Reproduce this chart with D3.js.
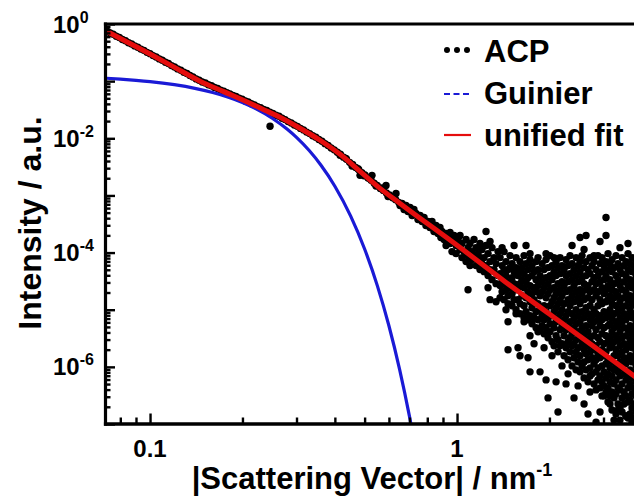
<!DOCTYPE html>
<html><head><meta charset="utf-8">
<script src="https://cdn.jsdelivr.net/npm/d3@7"></script>
<style>html,body{margin:0;padding:0;background:#fff;overflow:hidden}svg{display:block}text{font-family:"Liberation Sans",Arial,sans-serif;font-weight:bold;fill:#000}</style>
</head><body><svg id="c" width="634" height="504"></svg>
<script>
// ---------- data ----------
const fitQ = [0.0719,0.08511,0.1,0.1202,0.1455,0.1738,0.2117,0.2399,0.2651,0.308,0.3578,0.4158,0.4831,0.5613,0.6521,1.0228,1.4335,1.9937,3.772,4.5];
const fitI = [0.754,0.469,0.2977,0.1742,0.1,0.0656,0.0411,0.0300,0.02335,0.01498,0.00923,0.00524,0.00264,0.00133,7.24e-4,1.224e-4,3.10e-5,8.51e-6,6.95e-7,3.46e-7];
const guinierQ = [0.072,0.08,0.09,0.1,0.12,0.14,0.16,0.18,0.2,0.22,0.25,0.28,0.3,0.33,0.36,0.4,0.45,0.5,0.55,0.6,0.65,0.7,0.71];
const guinierI = [0.1124,0.1086,0.1035,0.0982,0.0867,0.0749,0.0633,0.0523,0.0423,0.0334,0.02245,0.01437,0.01036,0.0061,0.003406,0.00145,4.39e-4,1.156e-4,2.64e-5,5.24e-6,9.06e-7,1.36e-7,9.15e-8];
// ACP measured points, low q (tight band on the fit)
const bandQ = [0.07244,0.07413,0.07586,0.07762,0.07943,0.08128,0.08318,0.08511,0.08710,0.08913,0.09120,0.09333,0.09550,0.09772,0.1,0.1023,0.1047,0.1072,0.1096,0.1122,0.1148,0.1175,0.1202,0.1230,0.1259,0.1288,0.1318,0.1349,0.1380,0.1413,0.1445,0.1479,0.1514,0.1549,0.1585,0.1622,0.1660,0.1698,0.1738,0.1778,0.1820,0.1862,0.1905,0.1950,0.1995,0.2042,0.2089,0.2138,0.2188,0.2239,0.2291,0.2344,0.2399,0.2455,0.2512,0.2570,0.2630,0.2692,0.2754,0.2818,0.2884,0.2951,0.3020,0.3090,0.3162,0.3236,0.3311,0.3388,0.3467,0.3548,0.3631,0.3715,0.3802,0.3890,0.3981,0.4074,0.4169,0.4266,0.4365,0.4467,0.4571,0.4677,0.4786,0.4898,0.5012,0.5129,0.5248,0.5370,0.5495,0.5623,0.5754,0.5888,0.6026,0.6166,0.6310,0.6457];
const bandI = [0.751,0.695,0.660,0.611,0.580,0.536,0.509,0.471,0.447,0.414,0.393,0.364,0.346,0.319,0.303,0.280,0.265,0.245,0.232,0.214,0.203,0.187,0.177,0.1637,0.1552,0.1432,0.1357,0.1252,0.1187,0.1095,0.1038,0.0967,0.0927,0.0867,0.0832,0.0777,0.0745,0.0696,0.0668,0.0625,0.0599,0.0560,0.0537,0.0502,0.0482,0.0450,0.0432,0.0403,0.0385,0.0358,0.0344,0.0319,0.0306,0.0285,0.0272,0.02536,0.02425,0.02244,0.02124,0.01958,0.01853,0.01709,0.01618,0.01490,0.01401,0.01284,0.01207,0.01106,0.01041,0.00952,0.00890,0.00805,0.00747,0.00677,0.00628,0.00569,0.00528,0.00468,0.00428,0.00379,0.00347,0.00308,0.00281,0.00249,0.002275,0.002018,0.001841,0.001636,0.001493,0.001326,0.001225,0.001100,0.001015,9.13e-4,8.43e-4,7.57e-4];
const acpExtra = [[0.246,0.01625],[0.4158,0.005031],[0.4349,0.004441],[0.4550,0.003266],[0.4759,0.002940],[0.4978,0.002207],[0.5207,0.001987],[0.5446,0.001462],[0.5697,0.001354],[0.5959,0.0009605],[0.6234,0.0009412],[0.6521,0.0006677],[0.5285,0.002244],[0.5871,0.001498],[0.6328,0.001084],[0.4831,0.002244]];
// ACP, intermediate q
const acpMid = [[0.662,7.24e-4],[0.672,5.68e-4],[0.682,6.68e-4],[0.692,5.24e-4],[0.703,6.16e-4],[0.714,4.46e-4],[0.724,5.68e-4],[0.735,4.84e-4],[0.746,3.79e-4],[0.758,4.46e-4],[0.769,3.50e-4],[0.781,4.11e-4],[0.792,2.98e-4],[0.804,3.50e-4],[0.816,2.75e-4],[0.829,3.50e-4],[0.841,2.34e-4],[0.854,2.98e-4],[0.867,2.16e-4],[0.880,2.75e-4],[0.886,1.83e-4],[0.893,2.34e-4],
[0.907,1.69e-4],[0.921,2.16e-4],[0.921,1.33e-4],[0.935,1.83e-4],[0.949,2.25e-4],[0.949,1.44e-4],[0.963,1.69e-4],[0.963,1.04e-4],[0.978,1.99e-4],[0.993,1.33e-4],[0.993,9.60e-5],[1.008,1.69e-4],[1.023,1.13e-4],[1.023,1.99e-4],[1.038,1.44e-4],[1.038,8.17e-5],[1.054,1.04e-4],[1.070,1.69e-4],[1.070,6.95e-5],[1.086,1.22e-4],[1.086,8.86e-5],[1.086,2.24e-5],[1.102,1.44e-4],[1.102,5.92e-5],[1.119,1.04e-4],[1.119,7.54e-5],[1.136,1.69e-4],[1.136,8.86e-5],[1.153,1.22e-4],[1.153,5.92e-5],[1.171,9.60e-5],[1.171,6.95e-5],[1.188,1.44e-4],[1.188,5.03e-5],[1.188,8.17e-5],[1.206,1.13e-4],[1.206,6.41e-5],[1.225,8.17e-5],[1.225,4.64e-5],[1.243,2.34e-4],[1.243,1.33e-4],[1.243,5.92e-5],[1.262,2.43e-5],[1.262,9.60e-5],[1.262,3.95e-5],[1.281,6.95e-5],[1.281,1.50e-5],[1.281,5.03e-5],[1.300,1.22e-4],[1.300,3.36e-5],[1.320,8.17e-5],[1.320,5.03e-5],[1.340,1.38e-5],[1.340,6.41e-5],[1.340,2.86e-5],[1.360,1.04e-4],[1.360,3.95e-5]];
// ACP, high q cloud: q values and the intensities read at each q
const cloudQ = [1.381,1.402,1.423,1.444,1.466,1.488,1.511,1.534,1.557,1.580,1.604,1.628,1.653,1.678,1.703,1.729,1.755,1.782,1.809,1.836,1.864,1.892,1.921,1.950,1.979,2.009,2.039,2.070,2.102,2.133,2.166,2.198,2.232,2.265,2.300,2.334,2.370,2.405,2.442,2.479,2.516,2.554,2.593,2.632,2.671,2.712,2.753,2.794,2.837,2.879,2.923,2.967,3.012,3.057,3.104,3.150,3.198,3.246,3.295,3.345,3.395,3.447,3.499,3.551,3.606,3.660,3.715,3.771,3.828];
const cloudI = [
[8.17e-5,4.28e-5,2.64e-5,1.62e-5],[5.92e-5,3.36e-5,2.07e-5],[1.04e-4,5.03e-5,2.86e-5,1.50e-5],[6.95e-5,3.95e-5,2.24e-5],[5.03e-5,3.10e-5,1.76e-5,1.27e-5],[8.86e-5,5.46e-5,2.43e-5],[6.41e-5,3.64e-5,1.91e-5,1.17e-5],[4.64e-5,2.86e-5,1.50e-5],
[8.17e-5,5.46e-5,2.24e-5,9.98e-6],[3.95e-5,2.43e-5,1.50e-5],[6.95e-5,4.64e-5,2.86e-5,1.27e-5,8.50e-6],[5.46e-5,3.36e-5,1.76e-5],[8.86e-5,4.28e-5,2.43e-5,1.17e-5,7.24e-6],[6.41e-5,3.10e-5,1.62e-5,9.23e-6],[5.03e-5,3.64e-5,2.07e-5,6.68e-6],[7.54e-5,2.64e-5,1.38e-5,7.85e-6],
[5.92e-5,3.95e-5,1.91e-5,1.08e-5,5.68e-6],[4.64e-5,2.43e-5,1.50e-5,7.24e-6],[6.95e-5,3.36e-5,2.07e-5,9.23e-6,4.83e-6],[8.17e-5,5.03e-5,2.64e-5,1.27e-5,6.68e-6],[3.95e-5,1.76e-5,9.98e-6,4.46e-6],[6.41e-5,3.10e-5,2.07e-5,7.85e-6,5.24e-6],[5.03e-5,2.43e-5,1.17e-5,6.68e-6,3.79e-6],[7.54e-5,3.64e-5,1.62e-5,9.23e-6,4.83e-6],
[5.46e-5,2.86e-5,1.91e-5,7.24e-6,3.23e-6],[8.86e-5,3.95e-5,2.24e-5,1.17e-5,5.68e-6,4.11e-6],[5.92e-5,3.36e-5,1.38e-5,7.85e-6,2.75e-6],[4.64e-5,2.43e-5,1.62e-5,9.23e-6,4.83e-6,2.34e-6],[6.95e-5,3.95e-5,1.91e-5,1.08e-5,6.16e-6,3.50e-6],[5.46e-5,2.86e-5,1.27e-5,7.24e-6,2.98e-6,1.83e-6],[8.17e-5,4.28e-5,2.24e-5,1.50e-5,8.50e-6,4.46e-6,2.34e-6],[5.92e-5,3.10e-5,1.76e-5,9.98e-6,5.24e-6,2.53e-6],
[5.03e-5,2.64e-5,1.27e-5,6.68e-6,3.50e-6,1.56e-6],[7.54e-5,3.95e-5,2.07e-5,7.85e-6,4.46e-6,2.16e-6],[5.92e-5,3.10e-5,1.50e-5,9.23e-6,5.24e-6,2.75e-6,1.33e-6],[8.86e-5,4.28e-5,2.24e-5,1.17e-5,6.16e-6,3.23e-6,1.83e-6],[6.41e-5,3.36e-5,1.76e-5,8.50e-6,3.79e-6,2.34e-6,1.04e-6],[5.03e-5,2.64e-5,1.38e-5,7.24e-6,4.83e-6,2.53e-6,1.44e-6],[8.17e-5,3.95e-5,2.07e-5,9.98e-6,5.68e-6,2.98e-6,1.83e-6,8.86e-7],[5.92e-5,3.10e-5,1.62e-5,7.85e-6,4.11e-6,2.16e-6,1.22e-6],
[6.95e-5,4.64e-5,2.24e-5,1.27e-5,6.16e-6,3.23e-6,1.56e-6,8.17e-7],[8.86e-5,3.64e-5,1.91e-5,9.23e-6,4.83e-6,2.53e-6,1.04e-6],[5.46e-5,2.86e-5,1.50e-5,7.24e-6,3.79e-6,1.99e-6,1.22e-6,6.41e-7],[6.95e-5,3.95e-5,2.24e-5,1.08e-5,5.24e-6,2.98e-6,1.69e-6,8.86e-7],[5.03e-5,2.64e-5,1.62e-5,8.50e-6,4.11e-6,2.34e-6,1.33e-6,5.46e-7],[8.17e-5,4.28e-5,2.07e-5,1.17e-5,6.68e-6,3.23e-6,1.83e-6,9.60e-7,6.95e-7],[5.92e-5,3.10e-5,1.50e-5,7.85e-6,5.24e-6,2.53e-6,1.44e-6,7.54e-7],[6.95e-5,3.64e-5,2.24e-5,9.98e-6,6.16e-6,3.50e-6,1.99e-6,1.13e-6,5.03e-7],
[5.03e-5,2.86e-5,1.76e-5,8.50e-6,4.46e-6,2.34e-6,1.33e-6,8.17e-7,3.95e-7],[8.86e-5,3.95e-5,2.07e-5,1.17e-5,6.68e-6,3.23e-6,1.69e-6,9.60e-7,5.91e-7],[6.41e-5,3.10e-5,1.50e-5,7.85e-6,5.24e-6,2.75e-6,1.44e-6,6.95e-7,4.28e-7],[8.17e-5,4.64e-5,2.43e-5,1.27e-5,6.68e-6,3.79e-6,1.99e-6,1.04e-6,5.46e-7,3.10e-7],[5.92e-5,3.36e-5,1.91e-5,9.23e-6,4.83e-6,2.53e-6,1.56e-6,8.17e-7,4.64e-7],[6.95e-5,3.95e-5,2.24e-5,1.38e-5,7.24e-6,3.50e-6,1.83e-6,1.13e-6,6.41e-7,3.64e-7],[9.60e-5,5.03e-5,2.64e-5,1.50e-5,8.50e-6,5.24e-6,2.75e-6,1.33e-6,7.54e-7,4.28e-7,2.43e-7],[6.41e-5,3.36e-5,1.76e-5,9.98e-6,5.68e-6,3.23e-6,2.16e-6,9.60e-7,5.46e-7,3.10e-7],
[7.54e-5,4.64e-5,2.24e-5,1.27e-5,7.24e-6,4.11e-6,2.34e-6,1.22e-6,6.95e-7,3.64e-7,1.76e-7],[5.46e-5,2.86e-5,1.62e-5,8.50e-6,4.83e-6,2.75e-6,1.56e-6,8.86e-7,5.03e-7,2.86e-7],[8.86e-5,3.95e-5,2.07e-5,1.17e-5,6.16e-6,3.50e-6,1.99e-6,1.04e-6,5.91e-7,3.36e-7,1.50e-7],[6.41e-5,3.36e-5,1.76e-5,9.23e-6,5.24e-6,2.98e-6,1.56e-6,8.17e-7,4.28e-7,2.24e-7],[5.03e-5,2.64e-5,1.38e-5,7.24e-6,4.11e-6,2.34e-6,1.22e-6,6.95e-7,3.95e-7,1.91e-7,1.17e-7],[8.17e-5,4.28e-5,2.24e-5,1.08e-5,6.16e-6,3.23e-6,1.83e-6,9.60e-7,5.03e-7,2.86e-7,1.62e-7],[5.92e-5,3.10e-5,1.62e-5,8.50e-6,4.83e-6,2.53e-6,1.44e-6,7.54e-7,3.64e-7,2.24e-7],[6.95e-5,3.95e-5,2.07e-5,1.17e-5,6.68e-6,3.50e-6,1.99e-6,1.13e-6,5.91e-7,3.10e-7,1.38e-7],
[9.60e-5,5.03e-5,2.64e-5,1.50e-5,7.85e-6,4.46e-6,2.34e-6,1.33e-6,6.95e-7,4.28e-7,2.43e-7,1.27e-7],[6.41e-5,3.36e-5,1.76e-5,9.98e-6,5.24e-6,2.98e-6,1.56e-6,8.86e-7,5.03e-7,2.64e-7,1.50e-7],[8.17e-5,4.64e-5,2.43e-5,1.27e-5,7.24e-6,3.79e-6,2.16e-6,1.22e-6,6.41e-7,3.36e-7,1.91e-7,1.08e-7],[5.92e-5,3.10e-5,1.62e-5,8.50e-6,4.83e-6,2.75e-6,1.44e-6,8.17e-7,4.28e-7,2.24e-7,1.27e-7],[7.54e-5,3.95e-5,2.07e-5,1.17e-5,6.16e-6,3.23e-6,1.83e-6,1.04e-6,5.46e-7,3.10e-7,1.62e-7]];
// ACP scattered outliers above/below the cloud
const acpSparse = [[1.534,1.33e-4],[1.678,1.33e-4],[1.950,9.60e-5],[2.070,8.17e-5],[2.370,1.33e-4],[2.516,1.83e-4],[2.632,1.99e-4],[2.593,1.13e-4],[2.794,8.86e-5],[2.923,1.56e-4],[3.057,4.11e-4],[3.057,1.99e-4],[3.395,1.22e-4],[3.606,1.44e-4],[1.402,1.22e-4],[1.281,1.56e-4],[1.729,9.60e-5],
[1.466,6.16e-6],[1.466,1.99e-6],[1.557,8.50e-6],[1.580,2.16e-6],[1.604,1.56e-6],[1.703,1.44e-6],[1.729,3.50e-6],[1.782,2.53e-6],[1.729,8.17e-7],[1.864,8.17e-7],[1.950,5.91e-7],[1.979,2.86e-7],[2.102,5.46e-7],[2.133,1.62e-7],[2.265,5.03e-7],[2.405,2.86e-7],[2.479,4.64e-7],[2.593,2.24e-7],[2.671,1.50e-7],[2.712,3.64e-7],[2.923,1.62e-7],[3.012,3.10e-7],[3.150,2.24e-7],[3.345,1.76e-7],[3.551,1.38e-7],[3.246,1.17e-7],[2.837,1.08e-7],[2.300,7.54e-7],[2.198,1.04e-6],[2.039,1.56e-6],[1.921,2.16e-6],[1.836,4.11e-6],[1.653,6.16e-6],[1.444,9.98e-6]];

const xMajorTicks = [0.1, 1];
const xTickLabels = ["0.1", "1"];
const xMinorTicks = [0.08,0.09,0.2,0.3,0.4,0.5,0.6,0.7,0.8,0.9,2,3,4];
const yMajorTicks = [1,1e-1,1e-2,1e-3,1e-4,1e-5,1e-6,1e-7];
const yLabelValues = [1,1e-2,1e-4,1e-6];
const yLabelExps = ["0","-2","-4","-6"];
const legendLabels = ["ACP","Guinier","unified fit"];
const yMinorTicks = [];
yMajorTicks.slice(1).forEach(d => { for (let k = 2; k <= 9; k++) yMinorTicks.push(d * k); });

// ---------- chart ----------
const svg = d3.select("#c");
const x = d3.scaleLog().domain([0.0716, 5]).range([105.5, 671.6]);
const y = d3.scaleLog().domain([1e-7, 1]).range([424, 24]);
const RED = "#e50d0d", BLUE = "#1a1ad6";

svg.append("clipPath").attr("id","clip").append("rect")
  .attr("x", x.range()[0]).attr("y", y.range()[1])
  .attr("width", x.range()[1]-x.range()[0]).attr("height", y.range()[0]-y.range()[1]);
const plot = svg.append("g").attr("clip-path","url(#clip)");

const acpAll = bandQ.map((q,i)=>[q,bandI[i]]).concat(acpExtra, acpMid, cloudQ.flatMap((q,i)=>cloudI[i].map(v=>[q,v])), acpSparse);
plot.append("g").selectAll("circle").data(acpAll).join("circle")
  .attr("cx", d=>x(d[0])).attr("cy", d=>y(d[1])).attr("r", 3.7).attr("fill","#000");

const line = d3.line().x(d=>x(d[0])).y(d=>y(d[1])).curve(d3.curveMonotoneX);
plot.append("path").datum(guinierQ.map((q,i)=>[q,guinierI[i]]))
  .attr("d", line).attr("fill","none").attr("stroke",BLUE).attr("stroke-width",3.2);
plot.append("path").datum(fitQ.map((q,i)=>[q,fitI[i]]))
  .attr("d", line).attr("fill","none").attr("stroke",RED).attr("stroke-width",5);

// axes (inward ticks)
function styleAxis(g){ g.select(".domain").remove(); g.selectAll(".tick line").attr("stroke","#000").attr("stroke-width",2.4); }
svg.append("g").attr("transform",`translate(${x.range()[0]},0)`)
  .call(d3.axisLeft(y).tickValues(yMinorTicks).tickSize(-5).tickFormat("")).call(styleAxis);
svg.append("g").attr("transform",`translate(${x.range()[0]},0)`)
  .call(d3.axisLeft(y).tickValues(yMajorTicks).tickSize(-9.5).tickFormat("")).call(styleAxis);
svg.append("g").attr("transform",`translate(0,${y.range()[0]})`)
  .call(d3.axisBottom(x).tickValues(xMinorTicks).tickSize(-6.5).tickFormat("")).call(styleAxis);
svg.append("g").attr("transform",`translate(0,${y.range()[0]})`)
  .call(d3.axisBottom(x).tickValues(xMajorTicks).tickSize(-10.5).tickFormat("")).call(styleAxis);

// frame
svg.append("line").attr("x1",x.range()[0]).attr("x2",x.range()[0]).attr("y1",y.range()[1]-1.5).attr("y2",y.range()[0]+1.8)
  .attr("stroke","#000").attr("stroke-width",3.2);
svg.append("line").attr("x1",x.range()[0]-1.6).attr("x2",x.range()[1]).attr("y1",y.range()[0]).attr("y2",y.range()[0])
  .attr("stroke","#000").attr("stroke-width",3.4);
svg.append("line").attr("x1",x.range()[0]-1.6).attr("x2",x.range()[1]).attr("y1",y.range()[1]).attr("y2",y.range()[1])
  .attr("stroke","#000").attr("stroke-width",3.2);

// tick labels
const yl = svg.append("g").selectAll("text").data(yLabelValues).join("text")
  .attr("x", 53).attr("y", d=>y(d)+8.5).attr("font-size",24);
yl.append("tspan").text("10");
yl.append("tspan").attr("dy",-10).attr("font-size",16).text((d,i)=>yLabelExps[i]);
svg.append("g").selectAll("text").data(xMajorTicks).join("text")
  .attr("x", d=>x(d)).attr("y", 457).attr("text-anchor","middle").attr("font-size",24)
  .text((d,i)=>xTickLabels[i]);

// axis titles
const xt = svg.append("text").attr("x", 372).attr("y", 489).attr("text-anchor","middle").attr("font-size",31);
xt.append("tspan").text("|Scattering Vector| / nm");
xt.append("tspan").attr("dy",-13).attr("font-size",18).text("-1");
svg.append("text").attr("transform","translate(41,223) rotate(-90)").attr("text-anchor","middle")
  .attr("font-size",32).text("Intensity / a.u.");

// legend
const lg = svg.append("g");
lg.selectAll("circle").data([447,457,467]).join("circle").attr("cx",d=>d).attr("cy",50).attr("r",3).attr("fill","#000");
lg.append("line").attr("x1",444).attr("x2",471).attr("y1",94).attr("y2",94).attr("stroke",BLUE).attr("stroke-width",2).attr("stroke-dasharray","6,3.5");
lg.append("line").attr("x1",444).attr("x2",471).attr("y1",135).attr("y2",135).attr("stroke",RED).attr("stroke-width",2.2);
lg.selectAll("text").data(legendLabels).join("text").attr("x",484).attr("y",(d,i)=>62+i*42).attr("font-size",31).text(d=>d);
</script></body></html>
